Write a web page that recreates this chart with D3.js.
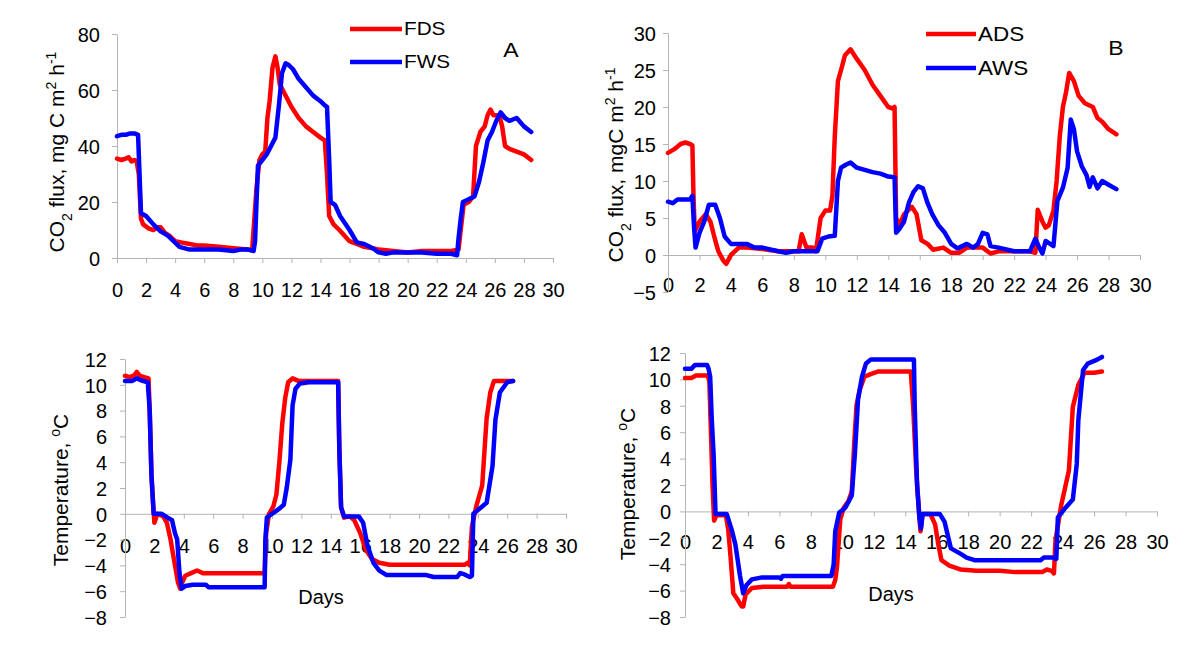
<!DOCTYPE html>
<html><head><meta charset="utf-8">
<script src="https://cdn.jsdelivr.net/npm/d3@7/dist/d3.min.js"></script>
<style>
body{margin:0;background:#fff}
text{font-family:Arial,"Liberation Sans",sans-serif;fill:#000}
</style>
</head><body>
<svg id="chart" width="1200" height="669"></svg>
<script>
// ---------- data ----------
const dayTicks = [0,2,4,6,8,10,12,14,16,18,20,22,24,26,28,30];
const fluxATicks = [0,20,40,60,80];
const fluxBTicks = [-5,0,5,10,15,20,25,30];
const tempTicks = [-8,-6,-4,-2,0,2,4,6,8,10,12];
const namesA = ["FDS","FWS"];
const namesB = ["ADS","AWS"];
const panelLetters = ["A","B"];

const fdsDays = [0,0.3,0.6,0.8,1.0,1.2,1.35,1.5,1.65,1.8,2.2,2.5,2.8,3.0,3.3,3.6,4.0,4.5,5.0,5.5,6,7,8,9,9.3,9.45,9.6,9.8,10.0,10.2,10.35,10.5,10.7,10.9,11.05,11.2,11.5,12,12.5,13,13.5,14,14.3,14.45,14.6,14.9,15.3,16,16.5,17,17.6,18,19,20,21,22,23,23.5,23.65,23.85,24.2,24.5,24.7,25.0,25.3,25.5,25.7,25.9,26.1,26.3,26.5,26.7,27,27.5,28,28.5];
const fdsFlux = [35.5,35,35.5,36,34.5,35,34.5,30,14,12,10.5,10,11,11,9,8,6,5.5,5,4.5,4.5,4,3.5,3,3,14,25,35,37,38,50,56,68,72,68,62,59,54,50,47,45,43,42,30,15,12,10,6,5,4,3.5,3,2.5,2,2.5,2.5,2.5,3,10,19,20,22,40,45,47,51,53,51,51,51,47,40,39,38,37,35];
const fwsDays = [0,0.3,0.6,0.9,1.2,1.45,1.55,1.65,2.0,2.5,3.0,3.5,4.0,4.3,5,6,7,8,8.5,9,9.4,9.5,9.6,9.7,10.0,10.3,10.6,10.9,11.15,11.35,11.6,11.8,12.1,12.5,13,13.5,14,14.3,14.45,14.6,14.7,15,15.35,16,16.5,17,17.6,18,18.5,19,20,21,22,23,23.4,23.5,23.65,23.8,24.2,24.6,24.9,25.2,25.5,25.8,26.1,26.4,26.7,27,27.5,28,28.5];
const fwsFlux = [43.5,44,44,44.5,44.5,44,30,16,15,12,9.5,8,5.5,4,3,3,3,2.5,3,3,2.5,6,20,33,35,37,40,43,55,66,69.5,69,67.5,64,61,58,56,54.5,54,35,20,19,15,10,5.6,5,3.5,2,1.5,2,2,2,1.5,1.5,1,7,14,20,21,22,27,34,42,45,49,52,50,49,50,47,45];

const adsDays = [0,0.4,0.8,1.1,1.4,1.55,1.62,1.7,2.0,2.4,2.7,3.0,3.2,3.5,3.7,4.0,4.5,5,6,7,8,8.3,8.5,8.8,9.2,9.4,9.7,10,10.3,10.45,10.6,10.8,11,11.25,11.6,12,12.5,13,13.5,14,14.3,14.4,14.5,14.7,15,15.5,15.8,16.1,16.5,16.85,17.5,18,18.5,19,20,20.5,21,22,23,23.35,23.5,23.8,24,24.2,24.5,24.7,24.9,25.1,25.3,25.5,25.8,26.1,26.5,27,27.3,27.6,28,28.5];
const adsFlux = [13.8,14.3,15,15.2,15,14.8,8,3.2,4.5,5.5,4.5,2,0.5,-0.7,-1.2,0,1,1,0.8,0.5,0.5,0.5,2.8,1,1,0.5,5,6,6,8,16,23.5,25,27,27.8,26.5,25,23,21.5,20,19.8,20,5,4,5.5,6.5,5.5,2,1.5,0.7,1,0.3,0.3,1,1,0.2,0.5,0.5,0.5,0.3,6.1,4.5,3.7,4,6,10,16,20,22,24.6,23.5,21.5,20.5,20,18.5,18,17,16.3];
const awsDays = [0,0.3,0.6,1.0,1.4,1.55,1.65,1.75,2.0,2.3,2.6,3.0,3.3,3.6,4.0,5,5.5,6,7,7.5,8,9,9.5,9.8,10.2,10.6,10.8,11,11.3,11.6,12,12.5,13,13.5,14,14.4,14.5,14.7,15,15.3,15.6,15.9,16.2,16.5,16.8,17.2,17.6,18,18.4,19,19.4,19.7,20,20.3,20.5,21,22,23,23.35,23.6,23.8,24,24.5,24.75,25.1,25.4,25.6,25.8,26,26.3,26.6,26.8,27,27.3,27.6,28,28.5];
const awsFlux = [7.2,7.0,7.5,7.5,7.5,8,4,1,3,4.5,6.8,6.8,5,2.5,1.5,1.5,1,1,0.5,0.3,0.5,0.5,0.5,2.2,2.5,2.6,10,11.8,12.2,12.5,11.8,11.5,11.2,11,10.6,10.5,3,3.5,4.5,7,8.5,9.3,9,7,5.5,4,3,1.5,0.9,1.5,1,1.5,3,2.8,1.2,1,0.5,0.5,2.2,1,0.2,1.9,1.2,7.3,9.1,11.8,18.3,17,14,12,10.8,9.2,10.5,9,10,9.5,8.9];

const fdsTDays = [0,0.3,0.6,0.8,1.0,1.3,1.6,1.68,1.8,1.9,2.0,2.2,2.6,2.85,3.1,3.4,3.6,3.75,3.9,4.1,4.5,4.9,5.3,9.5,9.6,9.8,10.1,10.3,10.5,10.7,10.9,11.1,11.4,11.8,14.5,14.58,14.7,14.9,15.3,15.6,16.0,16.4,16.8,17.3,18,23.1,23.3,23.45,23.6,23.9,24.3,24.6,24.85,25.1,25.5,26.4];
const fdsTemp = [10.7,10.6,10.7,11,10.7,10.6,10.5,8,3,1,-0.7,0,-0.2,-0.7,-2,-4,-5.3,-5.8,-5.3,-4.8,-4.6,-4.4,-4.6,-4.6,-1.5,0,0.6,1.5,4,7,9,10.2,10.5,10.3,10.3,5,0.5,-0.3,-0.2,-0.5,-1.5,-2.8,-3.5,-3.8,-3.95,-3.95,-3.8,-4,-1,0.6,2.2,7.4,9.4,10.3,10.3,10.3];
const fwsTDays = [0,0.5,0.8,1.2,1.55,1.68,1.8,1.95,2.5,2.9,3.2,3.4,3.55,3.7,3.85,4.1,4.6,5.5,5.7,9.5,9.55,9.65,10.0,10.5,10.8,11.0,11.25,11.4,11.6,11.9,12.5,14.5,14.58,14.7,14.9,15.9,16.2,16.5,16.9,17.3,17.8,20.5,21,22.6,22.8,23.1,23.45,23.6,23.7,24.6,25.0,25.2,25.5,26.0,26.4];
const fwsTemp = [10.3,10.3,10.5,10.3,10.2,8,3,0,0,-0.3,-0.5,-1.5,-2,-4.5,-5.8,-5.6,-5.5,-5.5,-5.7,-5.7,-2,-0.3,0,0.4,0.7,2,4.2,8.4,9.7,10.1,10.2,10.2,5,0.5,-0.2,-0.2,-0.7,-2.5,-3.8,-4.4,-4.75,-4.75,-4.9,-4.9,-4.6,-4.7,-4.9,-4.8,0,0.85,3.7,7.3,9.4,10.2,10.3];

const adsTDays = [0,0.4,0.7,1.0,1.45,1.55,1.65,1.75,1.85,2.0,2.6,2.75,2.9,3.07,3.3,3.6,3.7,3.85,4.25,5.0,6.5,6.6,6.7,9.4,9.55,9.66,9.87,10.1,10.4,10.6,10.75,10.9,11.1,11.4,11.8,12.3,14.35,14.5,14.7,14.9,14.97,15.1,15.6,15.9,16.1,16.3,16.8,17.5,18.5,20,21,22,22.7,23.0,23.3,23.45,23.55,23.9,24.4,24.65,25.0,25.4,26.0,26.5];
const adsTemp = [10.1,10.1,10.3,10.3,10.3,9.8,6,2,-0.7,-0.3,-0.3,-1.4,-3.5,-6.2,-6.6,-7.2,-7.2,-6.3,-5.8,-5.7,-5.7,-5.5,-5.7,-5.7,-5.2,-4.2,-0.6,0.3,0.8,1.5,5,8,9.2,10.2,10.4,10.6,10.6,8,3,-0.5,-1.5,-0.2,-0.2,-1,-2.5,-3.7,-4.1,-4.4,-4.5,-4.5,-4.6,-4.6,-4.6,-4.4,-4.5,-4.7,-2.2,0.4,3.1,7.9,9.6,10.5,10.5,10.6];
const awsTDays = [0,0.4,0.64,1.0,1.4,1.5,1.6,1.7,1.82,1.94,2.65,2.97,3.2,3.5,3.7,3.9,4.25,4.9,6.0,6.1,6.2,9.3,9.45,9.55,9.8,10.2,10.6,10.8,11.0,11.25,11.5,11.8,14.55,14.6,14.75,14.9,15.0,15.1,16.2,16.5,16.9,17.5,17.9,18.4,22.6,22.8,23.4,23.6,23.7,24.2,24.65,24.9,25.0,25.3,25.6,26.2,26.5];
const awsTemp = [10.8,10.8,11.1,11.1,11.1,10.8,10.2,7,4.3,-0.2,-0.2,-1.4,-2.5,-4.9,-6.2,-5.6,-5.15,-5.0,-5.0,-5.1,-4.9,-4.9,-4,-1.5,-0.1,0.3,1.2,4.4,8.5,10.2,11.2,11.5,11.5,8,2,-0.5,-1.3,-0.2,-0.2,-0.8,-2.8,-3.2,-3.5,-3.7,-3.7,-3.5,-3.5,-3.6,-0.45,0.3,0.9,3.6,6.9,10.7,11.2,11.5,11.7];

// ---------- layout ----------
const RED = "#ff0000", BLUE = "#0000ff", AXIS = "#b4b4b4";
const fluxLabelA = [["CO",""],["2","sub"],[" flux, mg C m",""],["2","super"],[" h",""],["-1","super"]];
const fluxLabelB = [["CO",""],["2","sub"],[" flux, mgC m",""],["2","super"],[" h",""],["-1","super"]];
const tempLabel = [["Temperature, ",""],["o","super"],["C",""]];

const panels = [
  {xr:[117,553], yd:[0,80], yr:[258,34], yt:fluxATicks, yLabRight:100, xLabY:290,
   ylab:{x:56,y:152,parts:fluxLabelA},
   series:[[fdsDays,fdsFlux,RED],[fwsDays,fwsFlux,BLUE]],
   legend:{x1:350,x2:402,ys:[29,62],tx:404,names:namesA,size:18},
   letter:{t:panelLetters[0],x:511,y:50}},
  {xr:[668,1140], yd:[-5,30], yr:[292,33], yt:fluxBTicks, yLabRight:656, xLabY:285,
   ylab:{x:615,y:165,parts:fluxLabelB},
   series:[[adsDays,adsFlux,RED],[awsDays,awsFlux,BLUE]],
   legend:{x1:926,x2:976,ys:[34,68],tx:978,names:namesB,size:19.5},
   letter:{t:panelLetters[1],x:1116,y:48}},
  {xr:[125,566], yd:[-8,12], yr:[617,359], yt:tempTicks, yLabRight:107, xLabY:546,
   ylab:{x:60,y:490,parts:tempLabel},
   series:[[fdsTDays,fdsTemp,RED],[fwsTDays,fwsTemp,BLUE]],
   days:{x:321,y:597}},
  {xr:[685,1157], yd:[-8,12], yr:[617,353], yt:tempTicks, yLabRight:671, xLabY:542,
   ylab:{x:627,y:484,parts:tempLabel},
   series:[[adsTDays,adsTemp,RED],[awsTDays,awsTemp,BLUE]],
   days:{x:891,y:594}}
];

const svg = d3.select("#chart");
const SX = 1.15; // horizontal stretch of legend glyphs in the source

panels.forEach(p => {
  const x = d3.scaleLinear().domain([0,30]).range(p.xr);
  const y = d3.scaleLinear().domain(p.yd).range(p.yr);
  const g = svg.append("g");
  const x0 = p.xr[0], y0 = y(0);

  const xa = g.append("g").attr("transform",`translate(0,${y0})`)
    .call(d3.axisBottom(x).tickValues(dayTicks).tickSize(5).tickSizeOuter(0));
  const ya = g.append("g").attr("transform",`translate(${x0},0)`)
    .call(d3.axisLeft(y).tickValues(p.yt).tickSize(5).tickSizeOuter(0));
  [xa,ya].forEach(a => {
    a.select(".domain").attr("stroke",AXIS).attr("stroke-width",1);
    a.selectAll(".tick line").attr("stroke",AXIS);
    a.selectAll("text").attr("font-size",20).attr("font-family","Arial, 'Liberation Sans', sans-serif").attr("fill","#000");
  });
  xa.selectAll("text").attr("y", p.xLabY - y0).attr("dy","0.36em");
  ya.selectAll("text").attr("x", p.yLabRight - x0).attr("dy","0.36em");

  const t = g.append("text")
    .attr("transform",`translate(${p.ylab.x},${p.ylab.y}) rotate(-90)`)
    .attr("text-anchor","middle").attr("dy","0.36em").attr("font-size",21);
  p.ylab.parts.forEach(([s,shift]) => {
    const ts = t.append("tspan").text(s);
    if (shift) ts.attr("baseline-shift", shift).attr("font-size", 14);
  });

  const line = d3.line().x(d => x(d[0])).y(d => y(d[1]));
  p.series.forEach(([xs, ys, col]) => {
    g.append("path").datum(xs.map((d,i)=>[d, ys[i]]))
      .attr("d", line).attr("fill","none").attr("stroke",col)
      .attr("stroke-width",4.5).attr("stroke-linejoin","round").attr("stroke-linecap","round");
  });

  if (p.legend) {
    const L = p.legend;
    [RED,BLUE].forEach((col,i) => {
      g.append("line").attr("x1",L.x1).attr("x2",L.x2).attr("y1",L.ys[i]).attr("y2",L.ys[i])
        .attr("stroke",col).attr("stroke-width",4.5);
      g.append("text").attr("transform",`translate(${L.tx},${L.ys[i]}) scale(${SX},1)`)
        .attr("dy","0.36em").attr("font-size",L.size).text(L.names[i]);
    });
    g.append("text").attr("transform",`translate(${p.letter.x},${p.letter.y}) scale(${SX},1)`)
      .attr("text-anchor","middle").attr("dy","0.36em").attr("font-size",20).text(p.letter.t);
  }
  if (p.days) {
    g.append("text").attr("x",p.days.x).attr("y",p.days.y).attr("text-anchor","middle")
      .attr("dy","0.36em").attr("font-size",20).text("Days");
  }
});
</script>
</body></html>
